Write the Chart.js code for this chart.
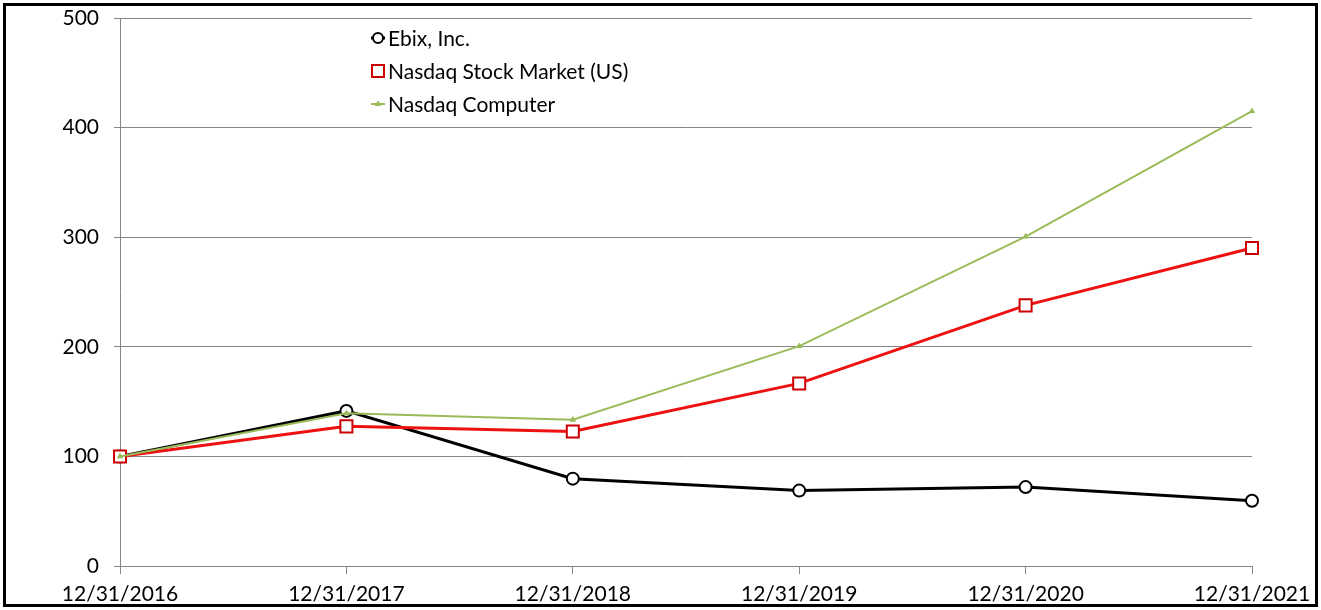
<!DOCTYPE html>
<html>
<head>
<meta charset="utf-8">
<script src="https://cdn.jsdelivr.net/npm/chart.js@4.4.0/dist/chart.umd.min.js"></script>
<style>
  html, body { margin: 0; padding: 0; background: #fff; }
  #wrap { width: 1321px; height: 610px; }
</style>
</head>
<body>
<div id="wrap"><canvas id="stockChart" width="1321" height="610"></canvas></div>
<script>
const fechas = ['12/31/2016', '12/31/2017', '12/31/2018', '12/31/2019', '12/31/2020', '12/31/2021'];
const ebix = [100, 141.5, 79.7, 68.8, 72.0, 59.5];
const nasdaqMarket = [100, 127.4, 122.8, 166.6, 237.8, 290.1];
const nasdaqComputer = [100, 139.3, 133.5, 200.6, 300.6, 415.0];
const yTicks = [0, 100, 200, 300, 400, 500];

const fuente = "Lato, 'Open Sans', sans-serif";

// leyenda dibujada dentro del area del grafico
const leyendaPlugin = {
    id: 'leyendaDentro',
    afterDraw(chart) {
        const ctx = chart.ctx;
        const xMarca = 378;
        const filas = [38, 71, 104];
        ctx.save();
        chart.data.datasets.forEach((ds, i) => {
            const y = filas[i];
            ctx.strokeStyle = ds.borderColor;
            ctx.lineWidth = ds.borderWidth;
            ctx.beginPath();
            ctx.moveTo(xMarca - 7, y);
            ctx.lineTo(xMarca + 7, y);
            ctx.stroke();
            ctx.fillStyle = ds.pointBackgroundColor;
            ctx.strokeStyle = ds.pointBorderColor;
            ctx.lineWidth = ds.pointBorderWidth;
            ctx.beginPath();
            if (ds.pointStyle === 'circle') {
                ctx.arc(xMarca, y, ds.legendRadius, 0, Math.PI * 2);
            } else if (ds.pointStyle === 'rect') {
                const s = ds.legendRadius * Math.SQRT1_2;
                ctx.rect(xMarca - s, y - s, 2 * s, 2 * s);
            } else {
                const r = ds.legendRadius;
                ctx.moveTo(xMarca, y - r);
                ctx.lineTo(xMarca + r * 0.87, y + r * 0.5);
                ctx.lineTo(xMarca - r * 0.87, y + r * 0.5);
                ctx.closePath();
            }
            ctx.fill();
            ctx.stroke();
            ctx.fillStyle = '#000';
            ctx.font = '21px ' + fuente;
            ctx.textBaseline = 'middle';
            ctx.textAlign = 'left';
            ctx.fillText(ds.label, xMarca + 10, y + 1);
        });
        ctx.restore();
    }
};

// marco negro alrededor de la imagen
const marcoPlugin = {
    id: 'marco',
    afterDraw(chart) {
        const ctx = chart.ctx;
        ctx.save();
        ctx.strokeStyle = '#000';
        ctx.lineWidth = 3;
        ctx.strokeRect(4.5, 4.5, 1312, 601);
        ctx.restore();
    }
};

const ctx = document.getElementById('stockChart').getContext('2d');
const chart = new Chart(ctx, {
    type: 'line',
    data: {
        labels: fechas,
        datasets: [{
            label: 'Ebix, Inc.',
            data: ebix,
            borderColor: '#000000',
            borderWidth: 3,
            pointStyle: 'circle',
            pointRadius: 6,
            legendRadius: 5,
            pointBorderWidth: 2,
            pointBorderColor: '#000000',
            pointBackgroundColor: '#ffffff',
            order: 3
        }, {
            label: 'Nasdaq Stock Market (US)',
            data: nasdaqMarket,
            borderColor: '#ee1111',
            borderWidth: 3,
            pointStyle: 'rect',
            pointRadius: 8.5,
            legendRadius: 8.5,
            pointBorderWidth: 2,
            pointBorderColor: '#cc0000',
            pointBackgroundColor: '#ffffff',
            order: 2
        }, {
            label: 'Nasdaq Computer',
            data: nasdaqComputer,
            borderColor: '#9bbb59',
            borderWidth: 2,
            pointStyle: 'triangle',
            pointRadius: 3,
            legendRadius: 3,
            pointBorderWidth: 1,
            pointBorderColor: '#9bbb59',
            pointBackgroundColor: '#9bbb59',
            order: 1
        }]
    },
    options: {
        responsive: false,
        animation: false,
        events: [],
        layout: {
            padding: { top: 18, right: 69, bottom: 0, left: 0 }
        },
        plugins: {
            legend: { display: false },
            tooltip: { enabled: false },
            title: { display: false }
        },
        elements: {
            line: { tension: 0 }
        },
        scales: {
            x: {
                offset: false,
                grid: {
                    drawOnChartArea: false,
                    drawTicks: true,
                    tickLength: 8,
                    color: '#868686'
                },
                border: { color: '#868686', width: 1 },
                ticks: {
                    color: '#000',
                    padding: 8,
                    maxRotation: 0,
                    autoSkip: false,
                    font: { family: fuente, size: 21 }
                },
                afterFit(scale) {
                    scale.height = 44;
                    scale.paddingLeft = 0;
                    scale.paddingRight = 0;
                }
            },
            y: {
                min: 0,
                max: 500,
                afterBuildTicks(scale) {
                    scale.ticks = yTicks.map(v => ({ value: v }));
                },
                grid: {
                    drawOnChartArea: true,
                    drawTicks: true,
                    tickLength: 6,
                    color: '#868686'
                },
                border: { color: '#868686', width: 1 },
                ticks: {
                    color: '#000',
                    padding: 15,
                    font: { family: fuente, size: 21 }
                },
                afterFit(scale) {
                    scale.width = 120;
                    scale.paddingTop = 0;
                    scale.paddingBottom = 0;
                }
            }
        }
    },
    plugins: [leyendaPlugin, marcoPlugin]
});
</script>
</body>
</html>
